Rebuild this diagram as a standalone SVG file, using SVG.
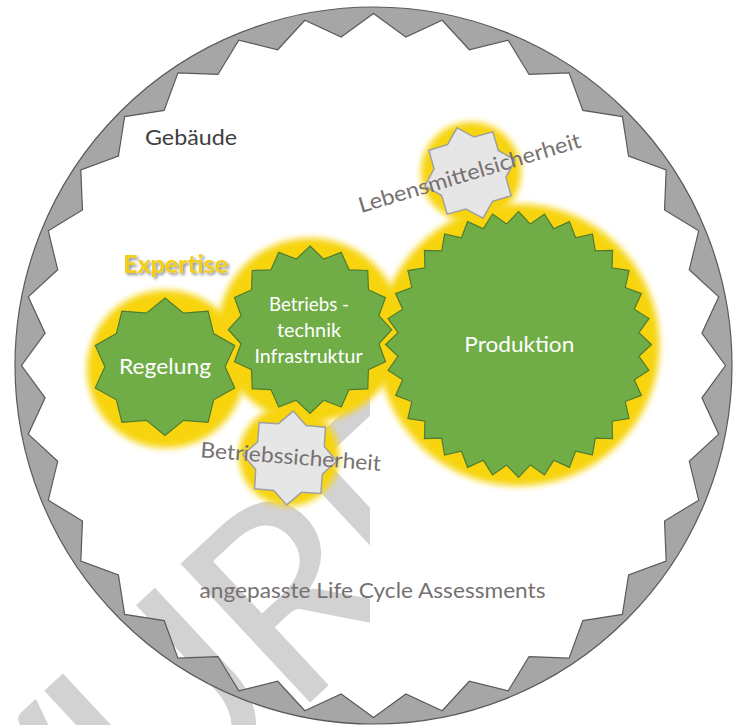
<svg xmlns="http://www.w3.org/2000/svg" xmlns:xlink="http://www.w3.org/1999/xlink" width="734" height="725" viewBox="0 0 734 725">
<defs>
<style>
text{font-family:Lato,"Open Sans","DejaVu Sans",sans-serif}
.w{fill:#FFFFFF}
.g{fill:#767171}
.green{fill:#70AD47;stroke:#4F7C30;stroke-width:1.2}
.gray{fill:#E7E6E6;stroke:#A0A0A0;stroke-width:1.5}
.glow{fill:#F7D40C;filter:url(#soft)}
</style>
<filter id="soft" x="-20%" y="-20%" width="140%" height="140%"><feGaussianBlur stdDeviation="3"/></filter>
<filter id="tshadow" x="-10%" y="-40%" width="130%" height="190%">
<feGaussianBlur in="SourceAlpha" stdDeviation="1.5"/>
<feOffset dx="2" dy="2" result="b"/>
<feFlood flood-color="#000000" flood-opacity="0.45"/>
<feComposite in2="b" operator="in"/>
<feMerge><feMergeNode/><feMergeNode in="SourceGraphic"/></feMerge>
</filter>
<clipPath id="wmclip"><rect x="0" y="0" width="370" height="725"/></clipPath>
<polygon id="star10" vector-effect="non-scaling-stroke" points="0,-100 25.34,-77.99 58.78,-80.9 66.34,-48.2 95.11,-30.9 82,0 95.11,30.9 66.34,48.2 58.78,80.9 25.34,77.99 0,100 -25.34,77.99 -58.78,80.9 -66.34,48.2 -95.11,30.9 -82,0 -95.11,-30.9 -66.34,-48.2 -58.78,-80.9 -25.34,-77.99"/>
<polygon id="star16" vector-effect="non-scaling-stroke" points="0,-100 16.78,-84.35 38.27,-92.39 47.78,-71.51 70.71,-70.71 71.51,-47.78 92.39,-38.27 84.35,-16.78 100,0 84.35,16.78 92.39,38.27 71.51,47.78 70.71,70.71 47.78,71.51 38.27,92.39 16.78,84.35 0,100 -16.78,84.35 -38.27,92.39 -47.78,71.51 -70.71,70.71 -71.51,47.78 -92.39,38.27 -84.35,16.78 -100,0 -84.35,-16.78 -92.39,-38.27 -71.51,-47.78 -70.71,-70.71 -47.78,-71.51 -38.27,-92.39 -16.78,-84.35"/>
<polygon id="star32" vector-effect="non-scaling-stroke" points="0,-100 8.92,-90.56 19.51,-98.08 26.42,-87.08 38.27,-92.39 42.9,-80.25 55.56,-83.15 57.73,-70.34 70.71,-70.71 70.34,-57.73 83.15,-55.56 80.25,-42.9 92.39,-38.27 87.08,-26.42 98.08,-19.51 90.56,-8.92 100,0 90.56,8.92 98.08,19.51 87.08,26.42 92.39,38.27 80.25,42.9 83.15,55.56 70.34,57.73 70.71,70.71 57.73,70.34 55.56,83.15 42.9,80.25 38.27,92.39 26.42,87.08 19.51,98.08 8.92,90.56 0,100 -8.92,90.56 -19.51,98.08 -26.42,87.08 -38.27,92.39 -42.9,80.25 -55.56,83.15 -57.73,70.34 -70.71,70.71 -70.34,57.73 -83.15,55.56 -80.25,42.9 -92.39,38.27 -87.08,26.42 -98.08,19.51 -90.56,8.92 -100,0 -90.56,-8.92 -98.08,-19.51 -87.08,-26.42 -92.39,-38.27 -80.25,-42.9 -83.15,-55.56 -70.34,-57.73 -70.71,-70.71 -57.73,-70.34 -55.56,-83.15 -42.9,-80.25 -38.27,-92.39 -26.42,-87.08 -19.51,-98.08 -8.92,-90.56"/>
<polygon id="star8" vector-effect="non-scaling-stroke" points="0,-100 29.47,-71.14 70.71,-70.71 71.14,-29.47 100,0 71.14,29.47 70.71,70.71 29.47,71.14 0,100 -29.47,71.14 -70.71,70.71 -71.14,29.47 -100,0 -71.14,-29.47 -70.71,-70.71 -29.47,-71.14"/>
</defs>

<rect x="0" y="0" width="734" height="725" fill="#FFFFFF"/>

<g id="watermark" clip-path="url(#wmclip)">
<text transform="translate(45,690) rotate(-43)" x="-778 -630 -431 -283 -23 161 312" y="190" font-size="265" fill="#D2D2D2">ENTWURF</text>
</g>

<g id="gebaeude-ring">
<path fill="#A6A6A6" stroke="#5A5A5A" stroke-width="1.2" fill-rule="evenodd" d="M15,365.5 A358.5,358.5 0 1 1 732,365.5 A358.5,358.5 0 1 1 15,365.5 Z M373.5,13.5 L405.85,37.09 442.17,20.26 469.29,49.71 508.2,40.29 529.06,74.47 569.06,72.82 582.85,110.41 622.4,116.6 628.59,156.15 666.18,169.94 664.53,209.94 698.71,230.8 689.29,269.71 718.74,296.83 701.91,333.15 725.5,365.5 701.91,397.85 718.74,434.17 689.29,461.29 698.71,500.2 664.53,521.06 666.18,561.06 628.59,574.85 622.4,614.4 582.85,620.59 569.06,658.18 529.06,656.53 508.2,690.71 469.29,681.29 442.17,710.74 405.85,693.91 373.5,717.5 341.15,693.91 304.83,710.74 277.71,681.29 238.8,690.71 217.94,656.53 177.94,658.18 164.15,620.59 124.6,614.4 118.41,574.85 80.82,561.06 82.47,521.06 48.29,500.2 57.71,461.29 28.26,434.17 45.09,397.85 21.5,365.5 45.09,333.15 28.26,296.83 57.71,269.71 48.29,230.8 82.47,209.94 80.82,169.94 118.41,156.15 124.6,116.6 164.15,110.41 177.94,72.82 217.94,74.47 238.8,40.29 277.71,49.71 304.83,20.26 341.15,37.09 Z"/>
</g>

<g id="glows">
<circle class="glow" cx="166" cy="369" r="79"/>
<circle class="glow" cx="310" cy="330" r="92"/>
<circle class="glow" cx="518.5" cy="345" r="141"/>
<circle class="glow" cx="471" cy="172" r="50"/>
<circle class="glow" cx="289" cy="456" r="50"/>
</g>

<g id="regelung">
<use xlink:href="#star10" class="green" transform="translate(165,366.7) scale(0.733,0.687)"/>
<text class="w" x="165" y="374" text-anchor="middle" font-size="21.5" textLength="92" lengthAdjust="spacingAndGlyphs">Regelung</text>
</g>

<g id="betriebstechnik">
<use xlink:href="#star16" class="green" transform="translate(310,329.7) scale(0.817,0.837)"/>
<text class="w" x="309" y="310.7" text-anchor="middle" font-size="18.5" textLength="80" lengthAdjust="spacingAndGlyphs">Betriebs -</text>
<text class="w" x="309" y="336.7" text-anchor="middle" font-size="18.5" textLength="64" lengthAdjust="spacingAndGlyphs">technik</text>
<text class="w" x="308.5" y="363.3" text-anchor="middle" font-size="18.5" textLength="108" lengthAdjust="spacingAndGlyphs">Infrastruktur</text>
</g>

<g id="produktion">
<use xlink:href="#star32" class="green" transform="translate(518.5,344.5) scale(1.33)"/>
<text class="w" x="519.3" y="351.7" text-anchor="middle" font-size="21.5" textLength="110" lengthAdjust="spacingAndGlyphs">Produktion</text>
</g>

<g id="lebensmittelsicherheit">
<use xlink:href="#star8" class="gray" transform="translate(470,173) rotate(-16) scale(0.47)"/>
<text class="g" transform="translate(361,213) rotate(-16.6)" font-size="21.5" textLength="231" lengthAdjust="spacingAndGlyphs">Lebensmittelsicherheit</text>
</g>

<g id="betriebssicherheit">
<use xlink:href="#star8" class="gray" transform="translate(290,458) rotate(4) scale(0.47)"/>
<text class="g" transform="translate(200,457.3) rotate(4.3)" font-size="21.5" textLength="181" lengthAdjust="spacingAndGlyphs">Betriebssicherheit</text>
</g>

<g id="labels">
<text x="145" y="145" font-size="21.5" fill="#404040" textLength="92" lengthAdjust="spacingAndGlyphs">Gebäude</text>
<text x="123" y="273.3" font-size="24" font-weight="bold" fill="#F4CE14" filter="url(#tshadow)" textLength="105" lengthAdjust="spacingAndGlyphs">Expertise</text>
<text class="g" x="199.5" y="598.3" font-size="21.5" textLength="346" lengthAdjust="spacingAndGlyphs">angepasste Life Cycle Assessments</text>
</g>
</svg>
